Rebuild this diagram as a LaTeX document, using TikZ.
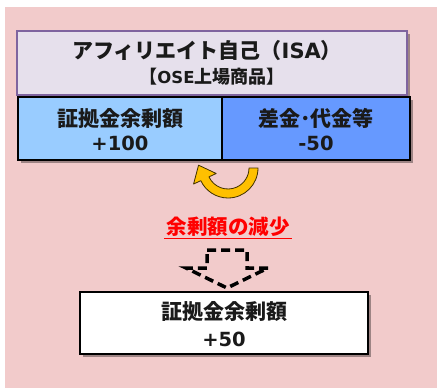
\documentclass[tikz,border=0pt]{standalone}
\usepackage{fontspec}
\setmainfont{Noto Sans CJK JP}
\newfontfamily\lat{DejaVu Sans}
\usetikzlibrary{shadows,calc}
\definecolor{bgpink}{HTML}{F2CBCB}
\definecolor{titlefill}{HTML}{E6E0EC}
\definecolor{titledraw}{HTML}{7F649F}
\definecolor{lblue}{HTML}{99CCFF}
\definecolor{dblue}{HTML}{6699FF}
\definecolor{arrowyellow}{HTML}{FFC000}
\definecolor{arrowedge}{HTML}{3F3000}
\definecolor{txt}{HTML}{1A1A1A}
\tikzset{
  boxshadow/.style={drop shadow={shadow xshift=3pt, shadow yshift=-3pt, fill=black, opacity=0.35}},
  titlebox/.style={draw=titledraw, line width=1.4pt, fill=titlefill, boxshadow, inner sep=0pt},
  valbox/.style={draw=black, line width=1.4pt, inner sep=0pt, boxshadow},
  lbl/.style={font=\bfseries\fontsize{21}{24}\selectfont, text=txt, inner sep=0pt},
  numlbl/.style={font=\lat\bfseries\fontsize{19.5}{24}\selectfont, text=txt, inner sep=0pt},
  sublbl/.style={font=\bfseries\fontsize{18}{20}\selectfont, text=txt, inner sep=0pt},
  redlbl/.style={font=\bfseries\fontsize{20.5}{24}\selectfont, text=red, inner sep=2pt},
}
\begin{document}
\begin{tikzpicture}[x=1pt,y=1pt]
\useasboundingbox (0,0) rectangle (439,389);
\fill[white] (0,0) rectangle (439,389);
\fill[bgpink] (5,1) rectangle (437,382);
% title box
\node[titlebox, minimum width=390pt, minimum height=64pt] (title) at (212,326) {};
\node[lbl] (t1) at (207,338) {アフィリエイト自己（{\lat ISA}）};
\node[sublbl] (t2) at (212,312) {【{\lat\fontsize{16.5}{20}\selectfont OSE}上場商品】};
% value boxes
\node[valbox, fill=lblue, minimum width=204pt, minimum height=63pt] (left) at (120,260.5) {};
\node[valbox, fill=dblue, minimum width=188pt, minimum height=63pt] (right) at (316,260.5) {};
\node[lbl] (l1) at (120,271) {証拠金余剰額};
\node[numlbl] (l2) at (120,246) {+100};
\node[lbl] (r1) at (316,271) {差金･代金等};
\node[numlbl] (r2) at (316,246) {-50};
% curved yellow arrow
\coordinate (c) at (228,221);
\filldraw[fill=arrowyellow, draw=arrowedge, line width=0.8pt, line join=round]
  ($(c)+(0:30)$) arc[start angle=0, end angle=-155, radius=30]
  -- ($(c)+(-155:38)$)
  -- ($(c)+(-155:25.5)+(115:15)$)
  -- ($(c)+(-155:13)$)
  -- ($(c)+(-155:21)$)
  arc[start angle=-155, end angle=0, radius=21] -- cycle;
% red label
\node[redlbl] (red) at (228,162) {余剰額の減少};
\draw[red, line width=1pt] ($(red.south west)+(0,1)$) -- ($(red.south east)+(0,1)$);
% dashed down arrow
\draw[black, line width=3.5pt, dash pattern=on 9pt off 5pt, line join=miter]
  (207,139) -- (247,139) -- (247,121) -- (268,121) -- (227,101) -- (186,121) -- (207,121) -- cycle;
% bottom box
\node[valbox, fill=white, minimum width=288pt, minimum height=62pt] (bottom) at (224,66) {};
\node[lbl] (b1) at (224,78) {証拠金余剰額};
\node[numlbl] (b2) at (224,50) {+50};
\end{tikzpicture}
\end{document}
